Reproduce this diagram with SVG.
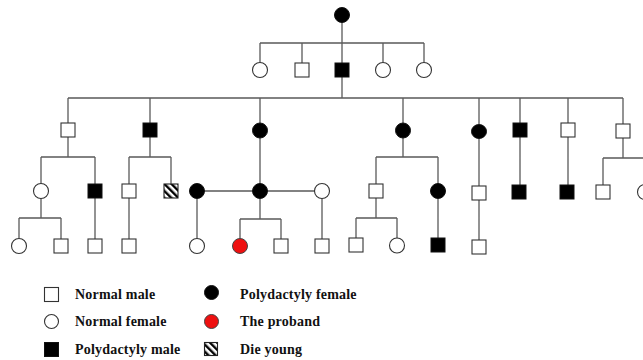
<svg xmlns="http://www.w3.org/2000/svg" width="643" height="360" viewBox="0 0 643 360">
<style>
.ln{stroke:#5a5a5a;stroke-width:1.3;fill:none}
.m{fill:#fff;stroke:#333;stroke-width:1.1}
.f{fill:#fff;stroke:#333;stroke-width:1.1}
.a{fill:#000;stroke:#111;stroke-width:1}
.p{fill:#ee1010;stroke:#444;stroke-width:1}
.h{fill:url(#hatch);stroke:#222;stroke-width:1.1}
.t{font-family:"Liberation Serif","Times New Roman",serif;font-weight:bold;font-size:14px;fill:#111;letter-spacing:0.2px}
</style>
<defs>
<pattern id="hatch" patternUnits="userSpaceOnUse" width="5" height="5" patternTransform="rotate(-45)">
<rect x="0" y="0" width="5" height="5" fill="#fff"/>
<rect x="0" y="0" width="2.4" height="5" fill="#000"/>
</pattern>
</defs>
<rect width="643" height="360" fill="#fff"/>
<g id="connectors">
<path class="ln" d="M342 22V43M260 43H424M260 43V62.5M302 43V63M342 43V63M383 43V62.5M424 43V62.5"/>
<path class="ln" d="M342 77V98M68 98H623M68 98V123M150 98V123M260 98V123M403 98V123M479 98V124M520 98V123M568 98V123M623 98V124"/>
<path class="ln" d="M68 137V157M41 157H95M41 157V184M95 157V184"/>
<path class="ln" d="M150 137V157M129 157H171M129 157V184M171 157V184"/>
<path class="ln" d="M260 138V184M197 191H322"/>
<path class="ln" d="M403 138V157M376 157H438M376 157V184M438 157V184"/>
<path class="ln" d="M479 139V186M520 137V185M568 137V185M623 138V158M603 158H643M603 158V185"/>
<path class="ln" d="M41 198.5V218M19 218H61M19 218V238.5M61 218V239"/>
<path class="ln" d="M95 198V239M129 198V239M197 198.5V238.5M260 198.5V219M240 219H281M240 219V238.5M281 219V239M322 198.5V239"/>
<path class="ln" d="M376 198V218M356 218H397M356 218V238M397 218V238M438 198.5V238M479 200V240"/>
</g>
<g id="g1"><circle class="a" cx="342" cy="15" r="7.5"/></g>
<g id="g2-1"><circle class="f" cx="260" cy="70" r="7.5"/></g>
<g id="g2-2"><rect class="m" x="295" y="63" width="14" height="14"/></g>
<g id="g2-3"><rect class="a" x="335" y="63" width="14" height="14"/></g>
<g id="g2-4"><circle class="f" cx="383" cy="70" r="7.5"/></g>
<g id="g2-5"><circle class="f" cx="424" cy="70" r="7.5"/></g>
<g id="g3-1"><rect class="m" x="61" y="123" width="14" height="14"/></g>
<g id="g3-2"><rect class="a" x="143" y="123" width="14" height="14"/></g>
<g id="g3-3"><circle class="a" cx="260" cy="130.5" r="7.5"/></g>
<g id="g3-4"><circle class="a" cx="403" cy="130.5" r="7.5"/></g>
<g id="g3-5"><ellipse class="a" cx="479" cy="131.5" rx="7.5" ry="7"/></g>
<g id="g3-6"><rect class="a" x="513" y="123" width="14" height="14"/></g>
<g id="g3-7"><rect class="m" x="561" y="123" width="14" height="14"/></g>
<g id="g3-8"><rect class="m" x="616" y="124" width="14" height="14"/></g>
<g id="g4-1"><circle class="f" cx="41" cy="191" r="7.5"/></g>
<g id="g4-2"><rect class="a" x="88" y="184" width="14" height="14"/></g>
<g id="g4-3"><rect class="m" x="122" y="184" width="14" height="14"/></g>
<g id="g4-4"><rect class="h" x="164" y="184" width="14" height="14"/></g>
<g id="g4-5"><circle class="a" cx="197" cy="191" r="7.5"/></g>
<g id="g4-6"><circle class="a" cx="260" cy="191" r="7.5"/></g>
<g id="g4-7"><circle class="f" cx="322" cy="191" r="7.5"/></g>
<g id="g4-8"><rect class="m" x="369" y="184" width="14" height="14"/></g>
<g id="g4-9"><circle class="a" cx="438" cy="191" r="7.5"/></g>
<g id="g4-10"><rect class="m" x="472" y="186" width="14" height="14"/></g>
<g id="g4-11"><rect class="a" x="512" y="185" width="14" height="14"/></g>
<g id="g4-12"><rect class="a" x="560" y="185" width="14" height="14"/></g>
<g id="g4-13"><rect class="m" x="596" y="185" width="14" height="14"/></g>
<g id="g4-14"><circle class="f" cx="645" cy="192" r="7.5"/></g>
<g id="g5-1"><circle class="f" cx="19" cy="246" r="7.5"/></g>
<g id="g5-2"><rect class="m" x="54" y="239" width="14" height="14"/></g>
<g id="g5-3"><rect class="m" x="88" y="239" width="14" height="14"/></g>
<g id="g5-4"><rect class="m" x="122" y="239" width="14" height="14"/></g>
<g id="g5-5"><circle class="f" cx="197" cy="246" r="7.5"/></g>
<g id="g5-6"><circle class="p" cx="240" cy="246" r="7.5"/></g>
<g id="g5-7"><rect class="m" x="274" y="239" width="14" height="14"/></g>
<g id="g5-8"><rect class="m" x="315" y="239" width="14" height="14"/></g>
<g id="g5-9"><rect class="m" x="349" y="238" width="14" height="14"/></g>
<g id="g5-10"><circle class="f" cx="397" cy="245.5" r="7.5"/></g>
<g id="g5-11"><rect class="a" x="431" y="238" width="14" height="14"/></g>
<g id="g5-12"><rect class="m" x="472" y="240" width="14" height="14"/></g>
<g id="legend">
<rect class="m" x="44.5" y="287.5" width="14" height="14"/>
<text class="t" x="75" y="299">Normal male</text>
<circle class="f" cx="51.5" cy="321.5" r="7"/>
<text class="t" x="75" y="326">Normal female</text>
<rect class="a" x="44.5" y="342.5" width="14" height="14"/>
<text class="t" x="75" y="354">Polydactyly male</text>
<circle class="a" cx="211.5" cy="292.5" r="7"/>
<text class="t" x="240" y="299">Polydactyly female</text>
<circle class="p" cx="211.5" cy="321.5" r="7"/>
<text class="t" x="240" y="326">The proband</text>
<rect class="h" x="204.5" y="342.5" width="13" height="13"/>
<text class="t" x="240" y="354">Die young</text>
</g>
</svg>
